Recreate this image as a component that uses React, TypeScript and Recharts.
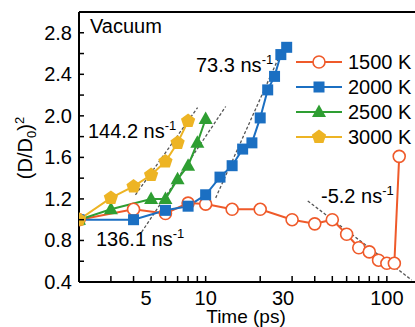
import React from "react";
import { LineChart, Line, XAxis, YAxis, Legend } from "recharts";

// time (ps) and (D/D0)^2 for each temperature
const t1500 = [2, 4, 6, 8, 10, 14, 20, 30, 40, 50, 60, 70, 80, 90, 100, 110, 117];
const v1500 = [1.0, 1.1, 1.06, 1.16, 1.15, 1.1, 1.1, 1.0, 0.96, 1.0, 0.86, 0.73, 0.69, 0.61, 0.58, 0.58, 1.61];
const t2000 = [2, 4, 6, 8, 10, 12, 14, 16, 18, 20, 22, 24, 26, 28];
const v2000 = [1.0, 1.0, 1.09, 1.13, 1.24, 1.41, 1.52, 1.68, 1.74, 1.98, 2.25, 2.38, 2.59, 2.66];
const t2500 = [2, 3, 5, 6, 7, 8, 9, 10];
const v2500 = [1.0, 1.1, 1.2, 1.2, 1.39, 1.52, 1.74, 1.97];
const t3000 = [2, 3, 4, 5, 6, 7, 8];
const v3000 = [1.0, 1.21, 1.32, 1.43, 1.56, 1.74, 1.95];

// linear fit guide lines (end points)
const fit3000T = [4.1, 9.03];
const fit3000V = [1.24, 2.08];
const fit2500T = [4.43, 12.9];
const fit2500V = [0.88, 2.09];
const fit2000T = [11.36, 25.6];
const fit2000V = [1.21, 2.58];
const fit1500T = [36.6, 137];
const fit1500V = [1.18, 0.42];

const xTicks = [3, 4, 5, 6, 7, 8, 9, 10, 20, 30, 40, 50, 60, 70, 80, 90, 100];
const xLabels = [5, 10, 30, 100];
const yTicks = [0.4, 0.6, 0.8, 1.0, 1.2, 1.4, 1.6, 1.8, 2.0, 2.2, 2.4, 2.6, 2.8];

const FONT = '"Liberation Sans", Arial, sans-serif';
const FS = 20;
const ORANGE = "#EF5A2A";
const BLUE = "#1B6FC2";
const GREEN = "#2E9E32";
const YELLOW = "#EDB424";
const GRAY = "#555555";

const toData = (t: number[], v: number[]) => t.map((x, i) => ({ t: x, v: v[i] }));

const series = [
  { name: "1500 K", data: toData(t1500, v1500), color: ORANGE, shape: "circle" },
  { name: "2000 K", data: toData(t2000, v2000), color: BLUE, shape: "square" },
  { name: "2500 K", data: toData(t2500, v2500), color: GREEN, shape: "triangle" },
  { name: "3000 K", data: toData(t3000, v3000), color: YELLOW, shape: "pentagon" },
];

const fits = [
  toData(fit3000T, fit3000V),
  toData(fit2500T, fit2500V),
  toData(fit2000T, fit2000V),
  toData(fit1500T, fit1500V),
];

function Marker({ shape, cx, cy, color }: { shape: string; cx: number; cy: number; color: string }) {
  if (shape === "circle") {
    return <circle cx={cx} cy={cy} r={6} fill="#fff" stroke={color} strokeWidth={1.6} />;
  }
  if (shape === "square") {
    return <rect x={cx - 5.5} y={cy - 5.5} width={11} height={11} fill={color} />;
  }
  if (shape === "triangle") {
    const pts = `${cx},${cy - 7.5} ${cx + 7},${cy + 5} ${cx - 7},${cy + 5}`;
    return <polygon points={pts} fill={color} />;
  }
  const pts = [0, 1, 2, 3, 4]
    .map((k) => {
      const a = -Math.PI / 2 + (k * 2 * Math.PI) / 5;
      return `${cx + 7.5 * Math.cos(a)},${cy + 7.5 * Math.sin(a)}`;
    })
    .join(" ");
  return <polygon points={pts} fill={color} />;
}

const makeDot = (shape: string, color: string) => (props: any) => (
  <Marker key={`${shape}-${props.index}`} shape={shape} cx={props.cx} cy={props.cy} color={color} />
);

const XTick = (props: any) => {
  const { x, y, payload } = props;
  const val = payload.value;
  const show = xLabels.includes(val);
  const dx = val === 5 ? -5 : val === 30 ? -9 : 0;
  return (
    <g>
      <line x1={x} y1={y} x2={x} y2={y - 6} stroke="#000" strokeWidth={1.5} />
      {show && (
        <text x={x + dx} y={y + 23} textAnchor="middle" fontSize={FS} fontFamily={FONT} fill="#000">
          {val}
        </text>
      )}
    </g>
  );
};

const YTick = (props: any) => {
  const { x, y, payload } = props;
  const val = payload.value;
  const show = Math.round(val * 10) % 4 === 0;
  return (
    <g>
      <line x1={x} y1={y} x2={x + 5} y2={y} stroke="#000" strokeWidth={1.5} />
      {show && (
        <text x={x - 7} y={y + 7} textAnchor="end" fontSize={FS} fontFamily={FONT} fill="#000">
          {val.toFixed(1)}
        </text>
      )}
    </g>
  );
};

const renderLegend = () => (
  <svg width={130} height={110}>
    {series.map((s, i) => {
      const y = 14 + i * 25;
      return (
        <g key={s.name}>
          <line x1={6} y1={y} x2={52} y2={y} stroke={s.color} strokeWidth={2} />
          <Marker shape={s.shape} cx={29} cy={y} color={s.color} />
          <text x={58} y={y + 7} fontSize={FS} fontFamily={FONT} fill="#000">
            {s.name}
          </text>
        </g>
      );
    })}
  </svg>
);

const Rate = ({ x, y, value }: { x: number; y: number; value: string }) => (
  <text x={x} y={y} fontSize={FS} fontFamily={FONT} fill="#000">
    {value} ns
    <tspan fontSize={13} dy={-8}>
      -1
    </tspan>
  </text>
);

export default function App() {
  return (
    <div style={{ position: "absolute", left: 0, top: 0, width: 415, height: 327, overflow: "hidden", background: "#fff" }}>
      <LineChart width={430} height={327} margin={{ top: 11, right: 15, bottom: 0, left: 0 }}>
        <XAxis
          dataKey="t"
          type="number"
          scale="log"
          domain={[2, 143]}
          allowDataOverflow
          ticks={xTicks}
          interval={0}
          tick={<XTick />}
          tickLine={false}
          tickSize={0}
          tickMargin={0}
          height={45}
          axisLine={{ stroke: "#000", strokeWidth: 2 }}
        />
        <XAxis
          xAxisId="top"
          orientation="top"
          dataKey="t"
          type="number"
          scale="log"
          domain={[2, 143]}
          allowDataOverflow
          tick={false}
          tickLine={false}
          height={1}
          axisLine={{ stroke: "#000", strokeWidth: 2 }}
        />
        <YAxis
          type="number"
          domain={[0.4, 3.0]}
          allowDataOverflow
          ticks={yTicks}
          interval={0}
          tick={<YTick />}
          tickLine={false}
          tickSize={0}
          tickMargin={0}
          width={79}
          axisLine={{ stroke: "#000", strokeWidth: 2 }}
        />
        <Legend
          layout="vertical"
          align="center"
          verticalAlign="middle"
          wrapperStyle={{ position: "absolute", left: 290, top: 48, width: 130 }}
          content={renderLegend}
        />
        {fits.map((f, i) => (
          <Line
            key={`fit-${i}`}
            data={f}
            dataKey="v"
            stroke={GRAY}
            strokeWidth={1.3}
            strokeDasharray="3 2"
            dot={false}
            legendType="none"
            isAnimationActive={false}
          />
        ))}
        {series.map((s) => (
          <Line
            key={s.name}
            name={s.name}
            data={s.data}
            dataKey="v"
            stroke={s.color}
            strokeWidth={2}
            dot={makeDot(s.shape, s.color)}
            isAnimationActive={false}
          />
        ))}
      </LineChart>
      <svg
        width={415}
        height={327}
        style={{ position: "absolute", left: 0, top: 0, pointerEvents: "none" }}
      >
        <text x={90} y={33} fontSize={FS} fontFamily={FONT} fill="#000">
          Vacuum
        </text>
        <Rate x={196} y={72} value="73.3" />
        <Rate x={88} y={138} value="144.2" />
        <Rate x={96} y={246} value="136.1" />
        <Rate x={321} y={203} value="-5.2" />
        <text x={246} y={323} textAnchor="middle" fontSize={19} fontFamily={FONT} fill="#000">
          Time (ps)
        </text>
        <text transform="translate(32,148) rotate(-90)" textAnchor="middle" fontSize={FS} fontFamily={FONT} fill="#000">
          (D/D
          <tspan fontSize={13} dy={4}>
            0
          </tspan>
          <tspan fontSize={FS} dy={-4}>
            )
          </tspan>
          <tspan fontSize={13} dy={-8}>
            2
          </tspan>
        </text>
      </svg>
    </div>
  );
}
